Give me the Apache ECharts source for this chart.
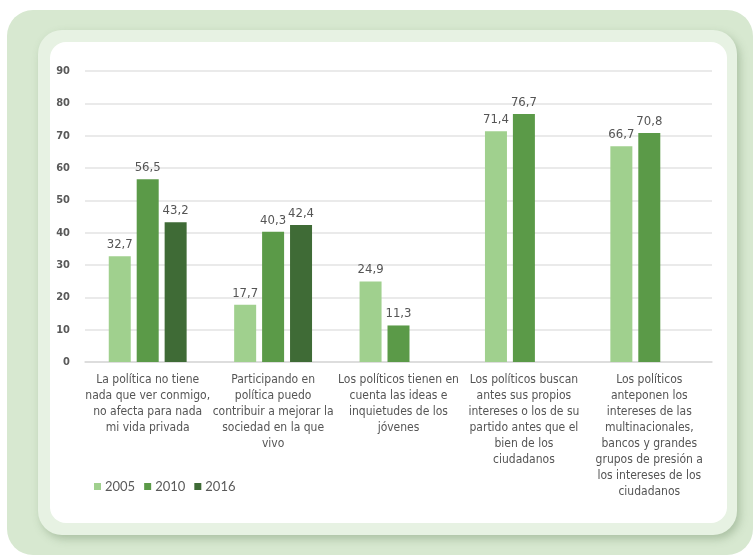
<!DOCTYPE html>
<html>
<head>
<meta charset="utf-8">
<script src="https://cdn.jsdelivr.net/npm/echarts@6/dist/echarts.min.js"></script>
<style>
  html, body { margin: 0; padding: 0; background: #ffffff; width: 756px; height: 556px; overflow: hidden; }
  #outer { position: absolute; left: 7px; top: 10px; width: 746px; height: 545px; background: #d7e8d0; border-radius: 26px; }
  #mid { position: absolute; left: 38px; top: 30px; width: 699px; height: 505px; background: #e7f2e3; border-radius: 24px;
         box-shadow: 3px 4px 8px rgba(90,120,80,0.35); }
  #inner { position: absolute; left: 50px; top: 42px; width: 677px; height: 481px; background: #ffffff; border-radius: 16px; }
  #chart { position: absolute; left: 0; top: 0; width: 756px; height: 556px; }
</style>
</head>
<body>
<div id="outer"></div>
<div id="mid"></div>
<div id="inner"></div>
<div id="chart"></div>
<script>
const categories = [
  "La política no tiene\nnada que ver conmigo,\nno afecta para nada\nmi vida privada",
  "Participando en\npolítica puedo\ncontribuir a mejorar la\nsociedad en la que\nvivo",
  "Los políticos tienen en\ncuenta las ideas e\ninquietudes de los\njóvenes",
  "Los políticos buscan\nantes sus propios\nintereses o los de su\npartido antes que el\nbien de los\nciudadanos",
  "Los políticos\nanteponen los\nintereses de las\nmultinacionales,\nbancos y grandes\ngrupos de presión a\nlos intereses de los\nciudadanos"
];
const seriesNames = ["2005", "2010", "2016"];
const values2005 = [32.7, 17.7, 24.9, 71.4, 66.7];
const values2010 = [56.5, 40.3, 11.3, 76.7, 70.8];
const values2016 = [43.2, 42.4, null, null, null];
const yTicks = [0, 10, 20, 30, 40, 50, 60, 70, 80, 90];

const colors = ["#a0d08e", "#5b9a48", "#3f6b36"];
const labelFont = "'DejaVu Sans Condensed', 'Liberation Sans Narrow', sans-serif";

const chart = echarts.init(document.getElementById('chart'), null, { renderer: 'canvas' });
const allValues = [values2005, values2010, values2016];

chart.setOption({
  backgroundColor: 'transparent',
  animation: false,
  grid: { left: 85, right: 44, top: 71, bottom: 194, containLabel: false },
  legend: {
    data: seriesNames,
    left: 89, top: 475,
    itemWidth: 7, itemHeight: 7, itemGap: 9,
    icon: 'rect',
    textStyle: { fontFamily: "Lato, 'Open Sans', sans-serif", fontSize: 13, color: '#5a5a5a', padding: [0, 0, 0, -1] }
  },
  xAxis: {
    type: 'category',
    data: categories,
    axisLine: { show: true, lineStyle: { color: '#d9d9d9', width: 1.5 } },
    axisTick: { show: false },
    axisLabel: {
      interval: 0, margin: 10,
      fontFamily: labelFont, fontSize: 12, lineHeight: 16, color: '#555555', align: 'center'
    }
  },
  yAxis: {
    type: 'value',
    min: yTicks[0], max: yTicks[yTicks.length - 1], interval: 10,
    axisLine: { show: false },
    axisTick: { show: false },
    splitLine: { lineStyle: { color: '#e3e3e3', width: 1.5 } },
    axisLabel: { margin: 15, fontFamily: labelFont, fontSize: 11, color: '#595959', fontWeight: 'bold' }
  },
  series: seriesNames.map((name, i) => ({
    name: name,
    type: 'bar',
    data: allValues[i],
    barWidth: 22,
    barGap: '27%',
    itemStyle: { color: colors[i] },
    label: {
      show: true, position: 'top', distance: 5,
      fontFamily: labelFont, fontSize: 13, color: '#555555',
      formatter: p => (p.value == null ? '' : String(p.value).replace('.', ','))
    }
  }))
});
</script>
</body>
</html>
